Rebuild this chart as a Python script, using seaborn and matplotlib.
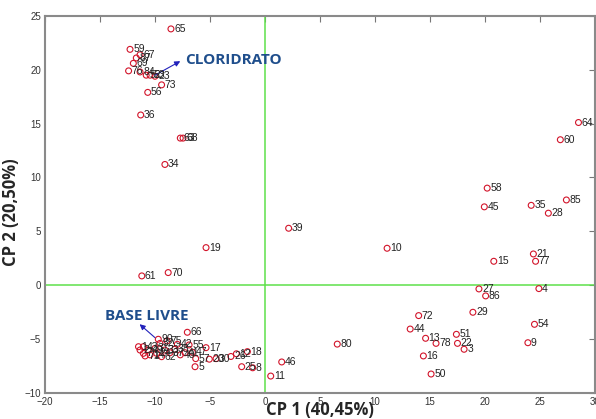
import pandas as pd
import seaborn as sns
import matplotlib.pyplot as plt

# amostras (rotulos) e escores nas duas primeiras componentes
amostras = [65, 59, 67, 87, 69, 76, 84, 52, 53, 23, 73, 56, 36,
            63, 68, 34, 19, 61, 70, 39, 10,
            64, 60, 58, 45, 35, 85, 28, 21, 77, 15, 27, 86, 4,
            72, 29, 54, 44, 51, 13, 78, 22, 3, 9, 80, 16, 50, 46,
            66, 90, 75, 55, 17, 47, 57, 5, 20, 30, 26, 12, 18, 25, 8, 11,
            1, 2, 7, 14, 24, 31, 32, 33, 37, 38, 40, 41, 42, 43, 49, 62, 71]
cp1 = [-8.55, -12.27, -11.36, -11.7, -11.97, -12.4, -11.36, -10.8, -10.45, -10.0, -9.4, -10.66, -11.3,
       -7.7, -7.45, -9.1, -5.36, -11.2, -8.8, 2.15, 11.1,
       28.5, 26.85, 20.2, 19.94, 24.2, 27.4, 25.76, 24.4, 24.6, 20.8, 19.45, 20.06, 24.9,
       13.97, 18.9, 24.5, 13.2, 17.4, 14.6, 15.55, 17.5, 18.1, 23.9, 6.57, 14.4, 15.1, 1.52,
       -7.06, -9.7, -8.9, -6.9, -5.36, -6.6, -6.3, -6.36, -5.06, -4.45, -3.1, -2.6, -1.6, -2.12, -1.12, 0.52,
       -11.5, -11.36, -11.06, -10.45, -9.85, -10.0, -9.55, -9.1, -8.64, -8.2, -7.7, -7.27, -7.97, -11.06, -10.6, -9.4, -10.9]
cp2 = [23.8, 21.9, 21.4, 21.1, 20.6, 19.9, 19.8, 19.5, 19.5, 19.4, 18.6, 17.9, 15.8,
       13.65, 13.65, 11.2, 3.47, 0.84, 1.15, 5.27, 3.41,
       15.1, 13.5, 9.0, 7.26, 7.4, 7.9, 6.67, 2.88, 2.2, 2.2, -0.37, -1.02, -0.34,
       -2.85, -2.54, -3.66, -4.1, -4.59, -4.96, -5.43, -5.43, -5.98, -5.37, -5.5, -6.6, -8.28, -7.16,
       -4.4, -5.05, -5.2, -5.58, -5.83, -6.26, -6.85, -7.6, -6.9, -6.85, -6.65, -6.4, -6.2, -7.6, -7.7, -8.47,
       -5.74, -6.05, -6.36, -6.5, -6.36, -5.9, -5.43, -6.05, -6.3, -5.98, -6.5, -6.3, -5.52, -5.74, -6.05, -6.67, -6.6]

df = pd.DataFrame({'amostra': amostras, 'CP1': cp1, 'CP2': cp2})

sns.set_style('white')
plt.rcParams['font.family'] = ['Liberation Sans', 'DejaVu Sans']

fig = plt.figure(figsize=(5.96, 4.19), dpi=100)
ax = fig.add_axes([0.0755, 0.0632, 0.9228, 0.8986])

ax.axvline(0, color='#5ee04a', lw=1.1, zorder=1)
ax.axhline(0, color='#5ee04a', lw=1.1, zorder=1)

sns.scatterplot(data=df, x='CP1', y='CP2', ax=ax, marker='o', s=18,
                facecolor='none', edgecolor='#d2142a', linewidth=0.8, zorder=3)

for lab, x, y in zip(df['amostra'], df['CP1'], df['CP2']):
    ax.text(x + 0.28, y, str(lab), fontsize=7.5, va='center', ha='left',
            color='#222222', zorder=4)

# anotacoes dos grupos
ax.annotate('', xy=(-7.7, 20.8), xytext=(-10.0, 19.5),
            arrowprops=dict(arrowstyle='-|>', color='#2222bb', lw=0.8,
                            mutation_scale=8, shrinkA=0, shrinkB=0))
ax.text(-7.3, 20.9, 'CLORIDRATO', fontsize=11, fontweight='bold',
        family='Open Sans', color='#1f4e8c', va='center', ha='left')
ax.annotate('', xy=(-11.4, -3.65), xytext=(-10.0, -4.9),
            arrowprops=dict(arrowstyle='-|>', color='#2222bb', lw=0.8,
                            mutation_scale=8, shrinkA=0, shrinkB=0))
ax.text(-14.5, -2.9, 'BASE LIVRE', fontsize=11, fontweight='bold',
        family='Open Sans', color='#1f4e8c', va='center', ha='left')

ax.set_xlim(-20, 30)
ax.set_ylim(-10, 25)
ax.set_xticks(range(-20, 31, 5))
ax.set_yticks(range(-10, 26, 5))
ax.tick_params(direction='in', length=4, width=0.8, colors='#333333',
               labelsize=7, top=True, right=True, pad=3)
ax.tick_params(axis='x', colors='#777777', labelcolor='#333333')
ax.tick_params(axis='y', colors='#777777', labelcolor='#333333')
for sp in ax.spines.values():
    sp.set_color('#8a8a8a')
    sp.set_linewidth(1.5)

ax.set_xlabel('CP 1 (40,45%)', fontsize=12, fontweight='bold', family='Open Sans')
ax.set_ylabel('CP 2 (20,50%)', fontsize=12, fontweight='bold', family='Open Sans')
ax.xaxis.set_label_coords(0.5, -0.022)
ax.yaxis.set_label_coords(-0.046, 0.48)

fig.savefig('out.png', dpi=100)
